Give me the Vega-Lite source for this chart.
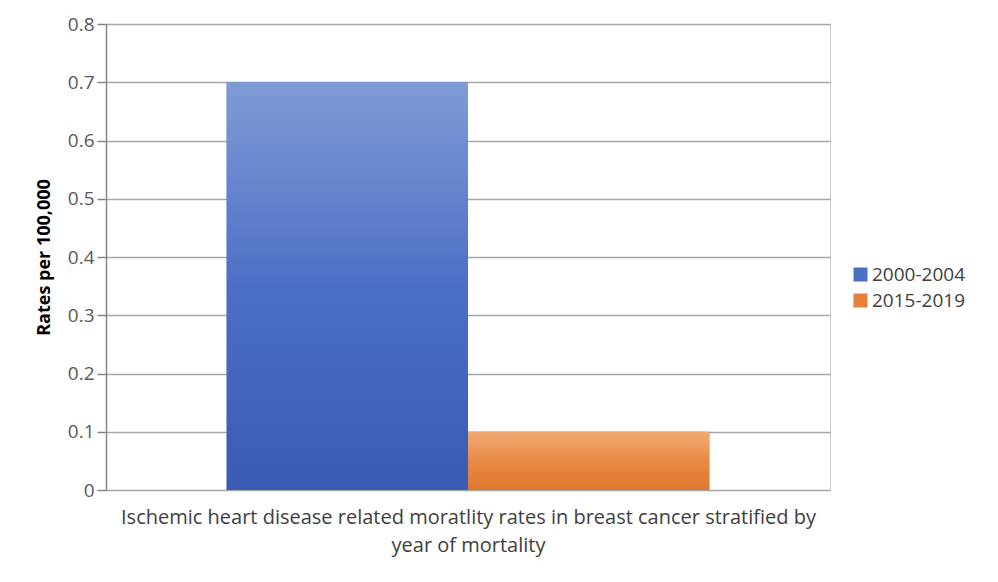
{
  "$schema": "https://vega.github.io/schema/vega-lite/v6.json",
  "width": 724,
  "height": 466,
  "autosize": {"type": "none"},
  "padding": {"left": 106, "top": 24, "right": 168, "bottom": 92},
  "background": "white",
  "config": {
    "font": "Open Sans",
    "view": {"stroke": "#d0d0d0", "strokeWidth": 1},
    "axis": {"labelFont": "Open Sans", "titleFont": "Open Sans"},
    "legend": {"labelFont": "Open Sans"}
  },
  "data": {
    "values": [
      {"category": "Ischemic heart disease", "period": "2000-2004", "rate": 0.7},
      {"category": "Ischemic heart disease", "period": "2015-2019", "rate": 0.1}
    ]
  },
  "encoding": {
    "x": {
      "field": "category",
      "type": "nominal",
      "scale": {"paddingInner": 0, "paddingOuter": 0.25},
      "axis": {
        "labels": false,
        "ticks": false,
        "domain": false,
        "title": ["Ischemic heart disease related moratlity rates in breast cancer stratified by", "year of mortality"],
        "titleFontSize": 20,
        "titleFontWeight": "normal",
        "titleColor": "#404040",
        "titleLineHeight": 28,
        "titlePadding": 17
      }
    },
    "xOffset": {
      "field": "period",
      "type": "nominal",
      "scale": {"paddingInner": 0, "paddingOuter": 0}
    },
    "y": {
      "field": "rate",
      "type": "quantitative",
      "scale": {"domain": [0, 0.8], "nice": false},
      "axis": {
        "title": "Rates per 100,000",
        "titleFontSize": 18,
        "titleFontWeight": "bold",
        "titleColor": "#000000",
        "titlePadding": 14,
        "values": [0, 0.1, 0.2, 0.3, 0.4, 0.5, 0.6, 0.7, 0.8],
        "format": ".1~f",
        "labelOverlap": false,
        "labelFontSize": 19,
        "labelColor": "#595959",
        "labelPadding": 3,
        "tickSize": 9,
        "tickColor": "#868686",
        "tickWidth": 1.5,
        "domainColor": "#868686",
        "domainWidth": 1.5,
        "grid": true,
        "gridColor": "#a6a6a6",
        "gridWidth": 1.5
      }
    }
  },
  "layer": [
    {
      "mark": {"type": "bar"},
      "encoding": {
        "color": {
          "field": "period",
          "type": "nominal",
          "scale": {"domain": ["2000-2004", "2015-2019"], "range": ["#4a6fc4", "#e8803c"]},
          "legend": {
            "title": null,
            "orient": "none",
            "legendX": 745,
            "legendY": 241,
            "symbolType": "square",
            "symbolSize": 196,
            "symbolStrokeWidth": 0,
            "labelFontSize": 19,
            "labelColor": "#404040",
            "rowPadding": 6,
            "labelOffset": 2
          }
        }
      }
    },
    {
      "transform": [{"filter": "datum.period == '2000-2004'"}],
      "mark": {
        "type": "bar",
        "color": {
          "gradient": "linear",
          "x1": 0, "y1": 0, "x2": 0, "y2": 1,
          "stops": [
            {"offset": 0, "color": "#7f9bd6"},
            {"offset": 0.5, "color": "#4c6fc6"},
            {"offset": 1, "color": "#3a5bb4"}
          ]
        }
      }
    },
    {
      "transform": [{"filter": "datum.period == '2015-2019'"}],
      "mark": {
        "type": "bar",
        "color": {
          "gradient": "linear",
          "x1": 0, "y1": 0, "x2": 0, "y2": 1,
          "stops": [
            {"offset": 0, "color": "#f0aa74"},
            {"offset": 0.5, "color": "#e98a45"},
            {"offset": 1, "color": "#de772e"}
          ]
        }
      }
    }
  ]
}
